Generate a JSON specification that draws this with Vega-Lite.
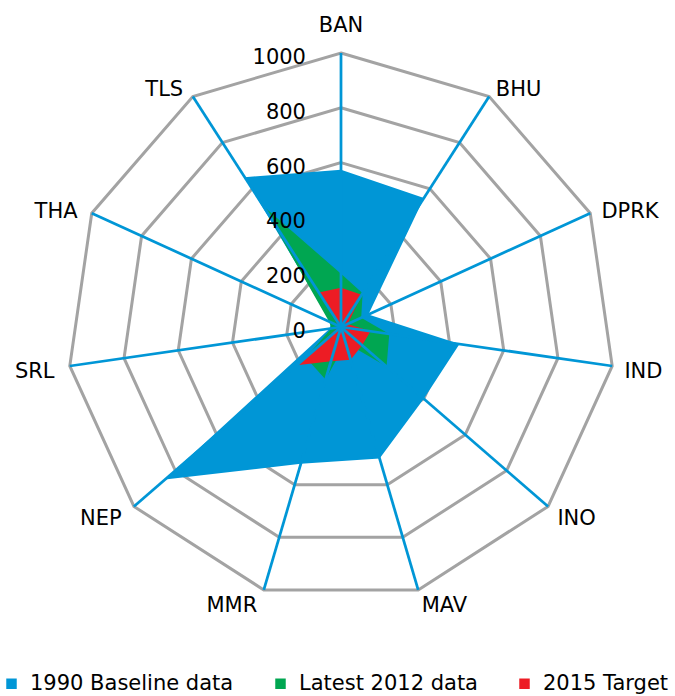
{
  "$schema": "https://vega.github.io/schema/vega-lite/v6.json",
  "width": 675,
  "height": 696,
  "padding": 0,
  "autosize": {"type": "none"},
  "background": "white",
  "config": {"view": {"stroke": null}, "font": "DejaVu Sans", "text": {"font": "DejaVu Sans"}},
  "datasets": {
    "mmr": [
      {"country": "BAN", "series": "1990 Baseline data", "value": 574},
      {"country": "BHU", "series": "1990 Baseline data", "value": 560},
      {"country": "DPRK", "series": "1990 Baseline data", "value": 110},
      {"country": "IND", "series": "1990 Baseline data", "value": 437},
      {"country": "INO", "series": "1990 Baseline data", "value": 400},
      {"country": "MAV", "series": "1990 Baseline data", "value": 500},
      {"country": "MMR", "series": "1990 Baseline data", "value": 520},
      {"country": "NEP", "series": "1990 Baseline data", "value": 850},
      {"country": "SRL", "series": "1990 Baseline data", "value": 42},
      {"country": "THA", "series": "1990 Baseline data", "value": 40},
      {"country": "TLS", "series": "1990 Baseline data", "value": 650},
      {"country": "BAN", "series": "Latest 2012 data", "value": 194},
      {"country": "BHU", "series": "Latest 2012 data", "value": 146},
      {"country": "DPRK", "series": "Latest 2012 data", "value": 81},
      {"country": "IND", "series": "Latest 2012 data", "value": 178},
      {"country": "INO", "series": "Latest 2012 data", "value": 220},
      {"country": "MAV", "series": "Latest 2012 data", "value": 60},
      {"country": "MMR", "series": "Latest 2012 data", "value": 200},
      {"country": "NEP", "series": "Latest 2012 data", "value": 170},
      {"country": "SRL", "series": "Latest 2012 data", "value": 35},
      {"country": "THA", "series": "Latest 2012 data", "value": 48},
      {"country": "TLS", "series": "Latest 2012 data", "value": 525},
      {"country": "BAN", "series": "2015 Target", "value": 143},
      {"country": "BHU", "series": "2015 Target", "value": 140},
      {"country": "DPRK", "series": "2015 Target", "value": 27},
      {"country": "IND", "series": "2015 Target", "value": 109},
      {"country": "INO", "series": "2015 Target", "value": 102},
      {"country": "MAV", "series": "2015 Target", "value": 125},
      {"country": "MMR", "series": "2015 Target", "value": 130},
      {"country": "NEP", "series": "2015 Target", "value": 213},
      {"country": "SRL", "series": "2015 Target", "value": 11},
      {"country": "THA", "series": "2015 Target", "value": 10},
      {"country": "TLS", "series": "2015 Target", "value": 150}
    ],
    "levels": [
      {"level": 200, "country": ["BAN","BHU","DPRK","IND","INO","MAV","MMR","NEP","SRL","THA","TLS"]},
      {"level": 400, "country": ["BAN","BHU","DPRK","IND","INO","MAV","MMR","NEP","SRL","THA","TLS"]},
      {"level": 600, "country": ["BAN","BHU","DPRK","IND","INO","MAV","MMR","NEP","SRL","THA","TLS"]},
      {"level": 800, "country": ["BAN","BHU","DPRK","IND","INO","MAV","MMR","NEP","SRL","THA","TLS"]},
      {"level": 1000, "country": ["BAN","BHU","DPRK","IND","INO","MAV","MMR","NEP","SRL","THA","TLS"]}
    ],
    "cats": [
      {"country": "BAN", "base": 0}, {"country": "BHU", "base": 0}, {"country": "DPRK", "base": 0}, {"country": "IND", "base": 0},
      {"country": "INO", "base": 0}, {"country": "MAV", "base": 0}, {"country": "MMR", "base": 0}, {"country": "NEP", "base": 0},
      {"country": "SRL", "base": 0}, {"country": "THA", "base": 0}, {"country": "TLS", "base": 0}
    ],
    "ticks": [{"tick": 0, "base": 0}, {"tick": 200, "base": 0}, {"tick": 400, "base": 0}, {"tick": 600, "base": 0}, {"tick": 800, "base": 0}, {"tick": 1000, "base": 0}]
  },
  "layer": [
    {
      "data": {"name": "levels"},
      "transform": [
        {"flatten": ["country"]},
        {"calculate": "indexof(['BAN','BHU','DPRK','IND','INO','MAV','MMR','NEP','SRL','THA','TLS'], datum.country)", "as": "idx"},
        {"calculate": "datum.level * sin(datum.idx * 2 * PI / 11)", "as": "x"},
        {"calculate": "datum.level * cos(datum.idx * 2 * PI / 11)", "as": "y"}
      ],
      "mark": {"type": "line", "interpolate": "linear-closed", "stroke": "#a3a3a3", "strokeWidth": 3},
      "encoding": {
        "x": {"field": "x", "type": "quantitative", "scale": {"domain": [-1244.5, 1219], "nice": false, "zero": false}, "axis": null},
        "y": {"field": "y", "type": "quantitative", "scale": {"domain": [-1346.7, 1193.4], "nice": false, "zero": false}, "axis": null},
        "detail": {"field": "level", "type": "nominal"},
        "order": {"field": "idx", "type": "quantitative"}
      }
    },
    {
      "data": {"name": "mmr"},
      "transform": [
        {"calculate": "indexof(['BAN','BHU','DPRK','IND','INO','MAV','MMR','NEP','SRL','THA','TLS'], datum.country)", "as": "idx"},
        {"calculate": "datum.value * sin(datum.idx * 2 * PI / 11)", "as": "x"},
        {"calculate": "datum.value * cos(datum.idx * 2 * PI / 11)", "as": "y"}
      ],
      "mark": {"type": "line", "interpolate": "linear-closed", "filled": true, "strokeWidth": 0},
      "encoding": {
        "x": {"field": "x", "type": "quantitative", "axis": null},
        "y": {"field": "y", "type": "quantitative", "axis": null},
        "color": {
          "field": "series", "type": "nominal",
          "scale": {"domain": ["1990 Baseline data", "Latest 2012 data", "2015 Target"], "range": ["#0096d6", "#00a651", "#ed1c24"]},
          "legend": {
            "title": null, "orient": "none", "direction": "horizontal",
            "legendX": 1, "legendY": 673, "padding": 0,
            "symbolType": "square", "symbolSize": 110, "symbolStrokeWidth": 0,
            "labelFont": "DejaVu Sans", "labelFontSize": 21, "labelColor": "#000000",
            "labelLimit": 400, "labelOffset": 8, "columnPadding": 36
          }
        },
        "order": {"field": "idx", "type": "quantitative"}
      }
    },
    {
      "data": {"name": "cats"},
      "transform": [
        {"calculate": "indexof(['BAN','BHU','DPRK','IND','INO','MAV','MMR','NEP','SRL','THA','TLS'], datum.country)", "as": "idx"},
        {"calculate": "1000 * sin(datum.idx * 2 * PI / 11)", "as": "sx"},
        {"calculate": "1000 * cos(datum.idx * 2 * PI / 11)", "as": "sy"}
      ],
      "mark": {"type": "rule", "color": "#0096d6", "strokeWidth": 2.75},
      "encoding": {
        "x": {"field": "base", "type": "quantitative"},
        "y": {"field": "base", "type": "quantitative"},
        "x2": {"field": "sx"},
        "y2": {"field": "sy"}
      }
    },
    {
      "data": {"name": "ticks"},
      "mark": {"type": "text", "align": "right", "baseline": "alphabetic", "dx": -35, "dy": 11, "fontSize": 21, "font": "DejaVu Sans", "color": "#000000"},
      "encoding": {
        "x": {"field": "base", "type": "quantitative"},
        "y": {"field": "tick", "type": "quantitative"},
        "text": {"field": "tick", "type": "quantitative", "format": "d"}
      }
    },
    {
      "data": {"name": "cats"},
      "transform": [
        {"calculate": "indexof(['BAN','BHU','DPRK','IND','INO','MAV','MMR','NEP','SRL','THA','TLS'], datum.country)", "as": "idx"},
        {"calculate": "sin(datum.idx * 2 * PI / 11)", "as": "s"},
        {"calculate": "1045 * datum.s", "as": "lx"},
        {"calculate": "1045 * cos(datum.idx * 2 * PI / 11)", "as": "ly"},
        {"filter": "datum.s > 0.1"}
      ],
      "mark": {"type": "text", "align": "left", "baseline": "middle", "dy": 4, "fontSize": 21, "font": "DejaVu Sans", "color": "#000000"},
      "encoding": {
        "x": {"field": "lx", "type": "quantitative"},
        "y": {"field": "ly", "type": "quantitative"},
        "text": {"field": "country"}
      }
    },
    {
      "data": {"name": "cats"},
      "transform": [
        {"calculate": "indexof(['BAN','BHU','DPRK','IND','INO','MAV','MMR','NEP','SRL','THA','TLS'], datum.country)", "as": "idx"},
        {"calculate": "sin(datum.idx * 2 * PI / 11)", "as": "s"},
        {"calculate": "1045 * datum.s", "as": "lx"},
        {"calculate": "1045 * cos(datum.idx * 2 * PI / 11)", "as": "ly"},
        {"filter": "datum.s < -0.1"}
      ],
      "mark": {"type": "text", "align": "right", "baseline": "middle", "dx": -3, "dy": 4, "fontSize": 21, "font": "DejaVu Sans", "color": "#000000"},
      "encoding": {
        "x": {"field": "lx", "type": "quantitative"},
        "y": {"field": "ly", "type": "quantitative"},
        "text": {"field": "country"}
      }
    },
    {
      "data": {"name": "cats"},
      "transform": [
        {"calculate": "indexof(['BAN','BHU','DPRK','IND','INO','MAV','MMR','NEP','SRL','THA','TLS'], datum.country)", "as": "idx"},
        {"calculate": "sin(datum.idx * 2 * PI / 11)", "as": "s"},
        {"calculate": "1045 * datum.s", "as": "lx"},
        {"calculate": "1045 * cos(datum.idx * 2 * PI / 11)", "as": "ly"},
        {"filter": "abs(datum.s) <= 0.1"}
      ],
      "mark": {"type": "text", "align": "center", "baseline": "alphabetic", "dy": -9, "fontSize": 21, "font": "DejaVu Sans", "color": "#000000"},
      "encoding": {
        "x": {"field": "lx", "type": "quantitative"},
        "y": {"field": "ly", "type": "quantitative"},
        "text": {"field": "country"}
      }
    }
  ]
}
